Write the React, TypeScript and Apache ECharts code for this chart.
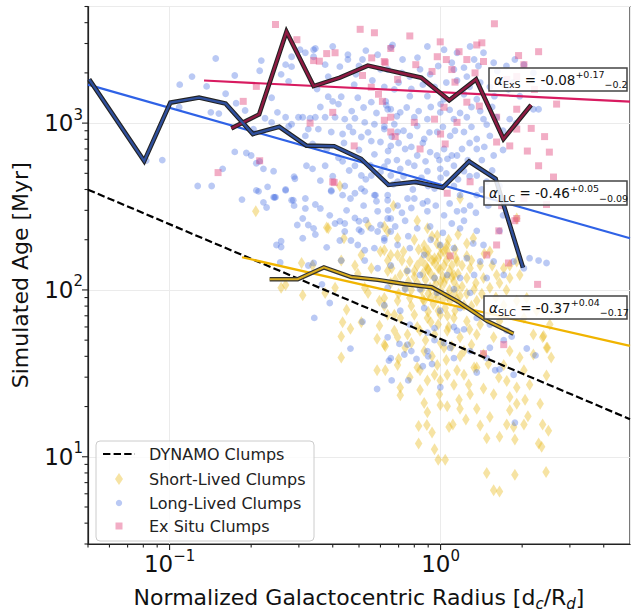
import React, { useEffect, useRef } from 'react';
import * as echarts from 'echarts';

const F = 'DejaVu Sans';
const X_MIN = 0.05, X_MAX = 5, Y_MIN = 3, Y_MAX = 5000;

const xMajorTicks = [0.1, 1];
const xMinorTicks = [0.05, 0.06, 0.07, 0.08, 0.09, 0.2, 0.3, 0.4, 0.5, 0.6, 0.7, 0.8, 0.9, 2, 3, 4];
const yMajorTicks = [10, 100, 1000];
const yMinorTicks = [3, 4, 5, 6, 7, 8, 9, 20, 30, 40, 50, 60, 70, 80, 90, 200, 300, 400, 500, 600, 700, 800, 900, 2000, 3000, 4000, 5000];

const dynamoLine = [[0.05, 399], [5, 16.8]];
const llcFit = [[0.05, 1700], [5, 204]];
const exsFit = [[0.134, 1800], [5, 1346]];
const slcFit = [[0.185, 157], [5, 46.2]];

const exsMedian = [[0.169, 930], [0.214, 1127], [0.27, 3530], [0.34, 1667], [0.425, 1871], [0.539, 2213], [0.849, 1871], [1.076, 1371], [1.352, 1828], [1.706, 803], [2.158, 1285]];
const llcMedian = [[0.0505, 1829], [0.0806, 592], [0.1007, 1327], [0.1285, 1422], [0.161, 1309], [0.203, 860], [0.254, 951], [0.32, 733], [0.405, 727], [0.509, 611], [0.642, 426], [0.808, 444], [1.017, 410], [1.274, 589], [1.596, 464], [2.014, 136]];
const slcMedian = [[0.234, 116], [0.297, 116], [0.371, 136.5], [0.468, 119.5], [0.586, 115], [0.734, 108.6], [0.927, 103.8], [1.168, 84.5], [1.483, 65.2], [1.857, 54.7]];

const shortLived = [
  [0.208, 296], [0.425, 420], [0.38, 237], [0.307, 145], [0.337, 140], [0.268, 107], [0.258, 103], [0.31, 93], [0.375, 96], [0.408, 103], [0.43, 150], [0.483, 140], [0.51, 162], [0.525, 103], [0.555, 135], [0.6, 170], [0.638, 150], [0.655, 162], [0.595, 86], [0.62, 80], [0.45, 76], [0.435, 64], [0.465, 58.5], [0.51, 64], [0.595, 61], [0.43, 52.5], [0.583, 51], [0.625, 46], [0.43, 39.4], [0.583, 33], [0.625, 33], [0.675, 71], [0.694, 52], [0.495, 125], [0.54, 96],
  [0.62, 173], [0.694, 162], [0.77, 148], [0.87, 170], [0.95, 155], [1.03, 170], [1.15, 148], [1.285, 135], [1.44, 118], [1.61, 123], [1.8, 118], [1.96, 123], [0.638, 130], [0.71, 123], [0.8, 130], [0.894, 135], [0.997, 132], [1.12, 123], [1.25, 118], [0.655, 110], [0.74, 103], [0.82, 110], [0.915, 103], [1.03, 110], [1.15, 103], [1.33, 101], [1.52, 103], [0.62, 89.6], [0.694, 86], [0.77, 89.6], [0.87, 86], [0.972, 89.6], [1.085, 86], [1.22, 81], [1.36, 86], [1.71, 81], [1.91, 86], [0.638, 71], [0.71, 68], [0.8, 71], [0.894, 68], [0.997, 71], [1.12, 68], [1.25, 65], [1.48, 68], [1.65, 65], [2.03, 68], [0.675, 57], [0.755, 54], [0.84, 57], [0.95, 54], [1.058, 57], [1.18, 52], [1.36, 54], [1.57, 52], [2.2, 54], [2.46, 45], [0.62, 47], [0.74, 45], [0.87, 43], [1.03, 45], [1.22, 43], [1.44, 41], [1.8, 43], [0.694, 35.5], [0.82, 34.3], [0.972, 35.5], [1.15, 33], [1.36, 34.3], [1.71, 35.5], [1.71, 135], [1.91, 148], [0.894, 234], [0.82, 260], [0.972, 212], [1.058, 186], [0.694, 204], [0.62, 240],
  [0.385, 234], [0.44, 204], [0.54, 245], [0.638, 224], [1.18, 353], [1.32, 204], [1.52, 170], [1.8, 140], [1.91, 268], [0.67, 320],
  [0.71, 23.4], [0.84, 25.1], [0.87, 21], [0.894, 18.5], [0.83, 15.3], [0.89, 15.5], [0.93, 14], [0.83, 12], [0.95, 11.1], [0.98, 9.6], [1.04, 9.6], [0.99, 23.7], [0.997, 20.4], [1.058, 20.1], [1.075, 15.1], [1.11, 15.6], [1.18, 19.4], [1.17, 22], [1.24, 16.7], [1.285, 23.7], [1.36, 19.4], [1.4, 15.4], [1.48, 12.9], [1.48, 8], [1.57, 6.3], [1.65, 6.2], [1.65, 13.2], [1.52, 17.3], [1.755, 15.6], [1.8, 19], [1.88, 12.7], [1.88, 7.8], [1.86, 15.1], [2.03, 15.6], [2.1, 17.5], [2.05, 22], [2.13, 27], [2.33, 20.8], [2.3, 12], [2.36, 11.5], [2.45, 8.1], [2.5, 14.3], [2.56, 39.4], [2.48, 45], [2.4, 53], [1.91, 26], [1.91, 20.8], [1.8, 22.8], [1.755, 28.5], [1.64, 29.9], [1.57, 23.7], [1.44, 25.7], [1.27, 27.1], [1.22, 31], [1.12, 27], [1.058, 31], [0.997, 28.7], [0.95, 31], [0.894, 28.7], [0.84, 33], [0.77, 30], [0.71, 26], [0.7, 38.5], [1.33, 34.3], [1.5, 36], [2.03, 33], [2.2, 41], [1.96, 39.4],
  [2.38, 52], [2.46, 30.7], [2.38, 15.6], [2.53, 62], [2.26, 75], [2.08, 89.6], [2.68, 81],
  [0.85, 150], [0.9, 160], [0.95, 145], [1.0, 165], [1.05, 150], [1.1, 140], [0.92, 125], [0.98, 135], [1.02, 120], [1.08, 130], [0.88, 115], [0.96, 108], [1.12, 112], [0.9, 95], [1.0, 100], [1.06, 92], [0.94, 82], [1.04, 78], [0.86, 88], [1.15, 88], [0.8, 120], [0.78, 100], [1.2, 105], [0.97, 190], [1.07, 200], [0.87, 185], [0.93, 210], [1.13, 175], [0.83, 175], [1.25, 160], [0.75, 130], [0.72, 150], [1.3, 150], [1.4, 140], [0.68, 115],
  [0.88, 140], [0.93, 150], [0.98, 155], [1.03, 140], [1.08, 160], [1.14, 155], [1.0, 180], [1.05, 175], [0.9, 172], [0.95, 118], [1.0, 112], [1.05, 118], [1.1, 120], [0.86, 125], [0.9, 132], [1.16, 125], [1.2, 140], [0.82, 140], [0.96, 96], [1.02, 88], [1.08, 100], [1.12, 95], [0.92, 90], [0.85, 100], [1.18, 92], [1.25, 95], [0.98, 75], [1.06, 70], [0.9, 74], [1.13, 75], [0.78, 80], [1.3, 80], [1.35, 110], [1.42, 95], [0.76, 112], [0.7, 95], [0.66, 135], [0.73, 170], [0.8, 200], [1.16, 215], [1.25, 190], [1.45, 165], [1.55, 140], [1.65, 110], [1.6, 90], [1.75, 100], [0.98, 62], [1.07, 60], [0.92, 64], [0.82, 60], [1.28, 58], [1.4, 62], [0.88, 50], [1.0, 48], [1.1, 46], [1.3, 47], [0.78, 48], [1.18, 40], [0.93, 40], [1.05, 38],
];

const longLived = [
  [0.082, 596], [0.094, 600], [0.109, 1700], [0.121, 1900], [0.1085, 1245], [0.148, 2440], [0.137, 1660], [0.161, 1500], [0.142, 1160], [0.152, 1140], [0.127, 420], [0.143, 420], [0.157, 532], [0.174, 672], [0.192, 662], [0.2, 640], [0.185, 348], [0.209, 395], [0.215, 590], [0.209, 575], [0.222, 532], [0.242, 515], [0.23, 415], [0.228, 312], [0.244, 358], [0.268, 400], [0.288, 478], [0.288, 320], [0.317, 308], [0.31, 268], [0.325, 245], [0.296, 245], [0.258, 181], [0.248, 186], [0.31, 204], [0.256, 146], [0.34, 145], [0.218, 2370], [0.215, 2060], [0.174, 1930], [0.176, 1315], [0.19, 1190], [0.204, 921], [0.238, 1420], [0.258, 1960], [0.268, 2240], [0.282, 2500], [0.275, 1780], [0.25, 1160], [0.268, 1085], [0.282, 985], [0.299, 1085], [0.31, 1085], [0.33, 1070], [0.34, 2754], [0.303, 2754], [0.317, 2640], [0.282, 2180], [0.275, 955], [0.225, 1070], [0.238, 1010], [0.317, 838], [0.337, 750],
  [0.345, 2800], [0.4, 2880], [0.34, 2500], [0.375, 2240], [0.425, 2180], [0.455, 2570], [0.455, 2404], [0.53, 2720], [0.515, 2404], [0.586, 2570], [0.638, 2094], [0.665, 2940], [0.487, 1960], [0.385, 1900], [0.43, 1440], [0.385, 1440], [0.495, 1420], [0.555, 1335], [0.628, 1350], [0.655, 1211], [0.345, 1085], [0.375, 1085], [0.408, 1085], [0.443, 1056], [0.483, 1070], [0.525, 1010], [0.57, 985], [0.62, 955], [0.675, 985], [0.325, 921], [0.354, 921], [0.395, 885], [0.435, 860], [0.475, 885], [0.51, 825], [0.555, 780], [0.6, 770], [0.655, 730], [0.32, 555], [0.375, 555], [0.435, 590], [0.483, 555], [0.51, 485], [0.555, 485], [0.62, 548], [0.655, 485], [0.29, 464], [0.337, 532], [0.36, 452], [0.395, 395], [0.443, 420], [0.465, 353], [0.51, 405], [0.575, 370], [0.638, 345], [0.282, 345], [0.317, 353], [0.246, 360], [0.268, 395], [0.213, 390],
  [0.655, 2840], [0.724, 2404], [0.822, 2470], [0.894, 2880], [1.03, 2754], [1.15, 2640], [1.285, 2880], [1.33, 2404], [1.44, 2640], [1.57, 2300], [1.88, 2404], [2.03, 2240], [2.2, 2000], [0.77, 1900], [0.915, 1960], [1.12, 2094], [1.25, 1900], [0.675, 1592], [0.77, 1450], [0.894, 1450], [1.03, 1389], [1.22, 1490], [1.36, 1389], [1.58, 1450], [1.78, 1592], [1.96, 1450], [2.3, 1211], [2.2, 1211], [0.638, 1211], [0.71, 1160], [0.8, 1085], [0.894, 1056], [0.997, 1160], [1.12, 1056], [1.25, 1085], [1.44, 1056], [1.61, 1085], [1.8, 1056], [0.62, 921], [0.694, 885], [0.77, 838], [0.87, 803], [0.972, 885], [1.085, 838], [1.22, 885], [1.36, 803], [1.52, 838], [0.74, 700], [0.82, 640], [0.915, 670], [1.03, 700], [1.15, 640], [1.36, 700], [1.57, 640], [0.638, 590], [0.71, 532], [0.8, 555], [0.894, 515], [0.997, 532], [1.12, 555], [1.22, 515], [0.694, 445], [0.82, 445], [0.95, 405], [1.12, 420], [1.36, 485], [1.48, 445], [0.638, 370], [0.755, 353], [0.894, 340], [1.18, 370], [1.36, 370],
  [0.694, 320], [0.8, 353], [0.894, 296], [0.638, 268], [0.74, 260], [0.82, 234], [0.915, 240], [1.03, 280], [1.15, 296], [1.285, 320], [1.18, 234], [1.36, 226], [1.44, 186], [1.65, 226], [0.62, 204], [0.694, 186], [0.77, 178], [0.87, 162], [0.997, 186], [1.12, 178], [1.25, 155], [1.4, 148], [1.57, 148], [1.86, 148], [2.03, 135], [2.13, 155], [2.3, 150], [2.46, 145], [0.655, 140], [0.755, 130], [0.84, 123], [0.95, 118], [1.058, 123], [1.18, 118], [1.33, 123], [1.48, 118], [1.71, 123], [0.638, 103], [0.74, 101], [0.84, 101], [0.972, 96], [1.12, 101], [1.285, 96], [0.62, 81], [0.71, 75], [0.87, 78], [0.997, 75], [1.18, 78], [1.36, 68], [1.52, 62], [1.755, 57], [0.77, 62], [0.95, 59], [1.15, 57], [0.638, 52], [0.755, 47], [0.894, 43], [1.085, 45], [1.285, 43], [1.48, 39], [0.655, 39],
  [0.222, 335], [0.242, 360], [0.286, 345], [0.345, 325], [0.36, 308], [0.34, 234], [0.345, 215], [0.38, 180], [0.39, 280], [0.408, 250], [0.425, 258], [0.443, 250], [0.483, 270], [0.5, 258], [0.53, 262], [0.425, 198], [0.467, 198], [0.495, 186], [0.525, 173], [0.57, 178], [0.62, 198], [0.655, 224], [0.586, 224], [0.555, 234], [0.51, 224], [0.443, 224], [0.395, 390], [0.435, 370], [0.483, 380], [0.525, 390], [0.57, 370], [0.586, 296], [0.655, 268], [0.258, 196], [0.325, 140], [0.39, 83.5], [0.342, 68], [0.515, 64.5], [0.465, 44.5], [0.645, 37.7], [0.365, 108], [0.43, 150], [0.525, 150], [0.586, 135],
  [0.583, 25.5], [0.66, 28.7], [0.76, 28.7], [0.705, 47.5], [0.735, 41], [0.78, 43], [0.815, 38.6], [0.86, 34.9], [0.9, 40], [0.93, 36], [0.998, 26.1], [1.03, 48], [1.12, 39], [1.36, 32], [1.52, 45], [1.59, 33], [1.65, 33.4], [1.86, 31], [2.08, 44.6], [2.24, 40.5], [1.88, 16], [1.83, 52.5], [1.71, 50], [0.95, 50], [0.894, 55.5], [1.12, 60], [1.22, 58],
  [0.36, 1250], [0.42, 1300], [0.47, 1180], [0.52, 1240], [0.58, 1150], [0.63, 1280], [0.69, 1100], [0.75, 1240], [0.83, 1180], [0.92, 1250], [1.0, 1300], [1.08, 1200], [1.18, 1150], [1.3, 1250], [1.4, 1180], [1.55, 1250],
  [0.38, 700], [0.44, 760], [0.5, 690], [0.57, 650], [0.64, 680], [0.7, 760], [0.78, 720], [0.86, 760], [0.97, 640], [1.06, 610], [1.2, 700], [1.28, 760], [1.45, 720], [1.7, 690],
  [0.4, 480], [0.46, 520], [0.53, 460], [0.6, 510], [0.67, 430], [0.73, 480], [0.79, 400], [0.85, 470], [0.9, 420], [1.0, 470], [1.05, 500], [1.16, 460], [1.28, 480], [1.42, 400], [1.55, 520], [1.65, 420],
  [0.45, 300], [0.52, 320], [0.58, 340], [0.64, 300], [0.72, 290], [0.78, 310], [0.86, 330], [0.96, 320], [1.08, 330], [1.22, 300], [1.35, 290], [1.5, 320], [1.7, 280],
  [0.48, 1700], [0.56, 1800], [0.62, 1650], [0.7, 1750], [0.78, 1600], [0.86, 1700], [0.95, 1650], [1.05, 1750], [1.15, 1800], [1.28, 1650], [1.4, 1750], [1.52, 1650], [1.7, 1700], [1.85, 1750],
  [0.5, 2200], [0.6, 2100], [0.72, 2000], [0.84, 2100], [0.98, 2200], [1.1, 2300], [1.22, 2150], [1.38, 2200], [1.62, 2050], [1.75, 2200],
  [0.35, 1600], [0.4, 1350], [0.46, 950], [0.54, 880], [0.66, 830], [0.73, 900], [0.82, 960], [0.91, 880], [1.02, 950], [1.13, 900], [1.3, 950], [1.48, 980], [1.7, 900], [1.9, 1000],
  [0.42, 620], [0.55, 560], [0.69, 600], [0.76, 580], [0.88, 590], [0.99, 600], [1.1, 640], [1.26, 600], [1.42, 600],
  [0.5, 230], [0.6, 245], [0.68, 240], [0.76, 210], [0.92, 200], [1.02, 220], [1.1, 250], [1.22, 260], [1.32, 190],
];

const exSitu = [
  [0.246, 3900], [0.295, 3162], [0.209, 1660], [0.187, 1350], [0.33, 1000], [0.215, 595], [0.151, 505], [0.34, 2370],
  [0.405, 440], [0.505, 3650], [0.57, 3480], [0.38, 2610], [0.408, 2640], [0.357, 2350], [0.557, 2460], [0.515, 1930], [0.555, 1640], [0.59, 1490], [0.625, 2300], [0.655, 2800], [0.61, 1350], [0.655, 1085], [0.62, 1040], [0.4, 1160], [0.68, 830],
  [1.58, 3940], [0.77, 3330], [0.997, 3070], [1.36, 2940], [1.42, 3030], [1.17, 2680], [1.25, 2404], [1.44, 2340], [2.3, 2680], [1.94, 2540], [2.03, 2240], [1.05, 2404], [0.972, 2500], [0.81, 2240], [0.62, 2340], [0.694, 1828], [0.93, 2040], [1.1, 2094], [1.13, 1760], [1.34, 2000], [1.755, 1828], [1.91, 1900], [2.22, 1592], [2.68, 1300], [1.03, 1245], [1.25, 1335], [1.39, 1265], [1.91, 1211], [0.95, 1056], [1.15, 1010], [1.61, 1085], [1.91, 921], [2.16, 930], [2.42, 830], [0.8, 1010], [1.0, 860], [0.84, 700], [1.04, 750], [1.61, 770], [1.8, 730], [2.52, 670], [2.3, 555],
  [2.09, 680], [2.61, 475], [2.46, 325], [2.28, 108], [1.91, 268], [1.68, 320], [1.61, 186], [0.4, 445], [0.48, 730], [0.655, 885],
  [1.285, 445], [1.058, 380], [2.03, 353], [1.64, 226], [1.48, 162], [1.88, 260], [1.78, 145], [1.085, 160], [1.71, 47], [1.44, 41.5],
];

const legendNames = ['DYNAMO Clumps', 'Short-Lived Clumps', 'Long-Lived Clumps', 'Ex Situ Clumps'];
const annotations = [
  { sub: 'ExS', val: '-0.08', plus: '+0.17', minus: '−0.2', box: [489, 68, 138, 23] },
  { sub: 'LLC', val: '-0.46', plus: '+0.05', minus: '−0.09', box: [484, 181, 143, 24] },
  { sub: 'SLC', val: '-0.37', plus: '+0.04', minus: '−0.17', box: [484, 296, 143, 23] },
];

const YELLOW = '#e8b818', BLUE = '#4169e1', PINK = '#e34a7f';
const Y_OP = 0.4, B_OP = 0.36, P_OP = 0.45;

function powLabel(v: number) {
  const e = Math.log10(v);
  const r = Math.round(e);
  if (Math.abs(e - r) > 1e-6) return '';
  const exp = r < 0 ? '−' + Math.abs(r) : String(r);
  return '{b|10}{s|' + exp + '}';
}

function tickSeries(axis: 'x' | 'y', data: number[][]) {
  return {
    type: 'custom',
    silent: true,
    clip: false,
    z: 30,
    data,
    renderItem: (_p: any, api: any) => {
      const pt = api.coord([api.value(0), api.value(1)]);
      const len = api.value(2);
      const shape = axis === 'x'
        ? { x1: pt[0], y1: pt[1], x2: pt[0], y2: pt[1] + len }
        : { x1: pt[0] - len, y1: pt[1], x2: pt[0], y2: pt[1] };
      return { type: 'line', shape, style: { stroke: '#222', lineWidth: 1.1 } };
    },
  };
}

function lineSeries(data: number[][], color: string, width: number, z: number, type: any = 'solid') {
  return {
    type: 'line', data, symbol: 'none', silent: true, z,
    lineStyle: { color, width, type, cap: 'butt', join: 'miter' },
  };
}

export default function App() {
  const ref = useRef<HTMLDivElement>(null);
  useEffect(() => {
    if (!ref.current) return;
    const chart = echarts.init(ref.current, null, { renderer: 'svg' });
    const labelRich = {
      b: { fontSize: 23, lineHeight: 32, fontFamily: F, color: '#111' },
      s: { fontSize: 15, lineHeight: 15, verticalAlign: 'top', fontFamily: F, color: '#111' },
    };
    const annRich = {
      a: { fontSize: 13.5, fontStyle: 'italic', lineHeight: 20, fontFamily: F, fill: '#111' },
      s: { fontSize: 9.5, lineHeight: 18, verticalAlign: 'bottom', fontFamily: F, fill: '#111' },
      m: { fontSize: 13.5, lineHeight: 20, fontFamily: F, fill: '#111' },
      p: { fontSize: 9.5, lineHeight: 7, verticalAlign: 'top', fontFamily: F, fill: '#111' },
      n: { fontSize: 9.5, lineHeight: 12, verticalAlign: 'bottom', fontFamily: F, fill: '#111' },
    };
    const graphics: any[] = [];
    annotations.forEach((a) => {
      const [bx, by, bw, bh] = a.box;
      graphics.push({
        type: 'rect', z: 100, silent: true,
        shape: { x: bx, y: by, width: bw, height: bh },
        style: { fill: 'rgba(255,255,255,0.85)', stroke: '#444', lineWidth: 1.5 },
      });
      graphics.push({
        type: 'text', z: 101, silent: true, x: bx + 5, y: by + bh / 2,
        style: {
          text: '{a|α}{s|' + a.sub + '}{m| = ' + a.val + '}{p|' + a.plus + '}{n|' + a.minus + '}',
          rich: annRich, verticalAlign: 'middle', align: 'left', fontFamily: F,
        },
      });
    });
    // legend
    const lx = 96, ly = 441, lw = 218, lh = 100;
    graphics.push({
      type: 'rect', z: 110, silent: true,
      shape: { x: lx, y: ly, width: lw, height: lh, r: 4 },
      style: { fill: 'rgba(255,255,255,0.8)', stroke: '#cccccc', lineWidth: 1 },
    });
    const rows = [454, 479, 503, 526];
    graphics.push({
      type: 'line', z: 111, silent: true,
      shape: { x1: 103, y1: rows[0], x2: 135, y2: rows[0] },
      style: { stroke: '#000', lineWidth: 2, lineDash: [7.4, 3.2] },
    });
    graphics.push({
      type: 'polygon', z: 111, silent: true,
      shape: { points: [[119, rows[1] - 6], [123, rows[1]], [119, rows[1] + 6], [115, rows[1]]] },
      style: { fill: YELLOW, opacity: Y_OP },
    });
    graphics.push({
      type: 'circle', z: 111, silent: true,
      shape: { cx: 119, cy: rows[2], r: 3.2 },
      style: { fill: BLUE, opacity: B_OP },
    });
    graphics.push({
      type: 'rect', z: 111, silent: true,
      shape: { x: 115.5, y: rows[3] - 3.5, width: 7, height: 7 },
      style: { fill: PINK, opacity: P_OP },
    });
    legendNames.forEach((name, i) => {
      graphics.push({
        type: 'text', z: 112, silent: true, x: 149, y: rows[i],
        style: { text: name, fontSize: 16, fontFamily: F, fill: '#222', verticalAlign: 'middle', align: 'left' },
      });
    });

    const option: any = {
      animation: false,
      backgroundColor: '#fff',
      textStyle: { fontFamily: F },
      grid: { left: 88, top: 6.5, width: 546, height: 542.5, show: true, borderColor: '#222', borderWidth: 1.2, backgroundColor: 'transparent' },
      xAxis: {
        type: 'log', logBase: 10, min: X_MIN, max: X_MAX,
        name: '{n|Normalized Galactocentric Radius [d}{i|c}{n|/R}{i|d}{n|]}',
        nameLocation: 'middle', nameGap: 39,
        nameTextStyle: {
          fontSize: 22, fontFamily: F, color: '#111',
          rich: {
            n: { fontSize: 22, lineHeight: 28, fontFamily: F, color: '#111' },
            i: { fontSize: 15, lineHeight: 14, fontStyle: 'italic', verticalAlign: 'bottom', fontFamily: F, color: '#111' },
          },
        },
        axisLine: { show: true, lineStyle: { color: '#222', width: 1.2 } },
        axisTick: { show: false },
        axisLabel: { margin: 4, formatter: (v: number) => powLabel(v), rich: labelRich, fontSize: 23, fontFamily: F },
        splitLine: { show: true, lineStyle: { color: '#ebebeb', width: 1 } },
      },
      yAxis: {
        type: 'log', logBase: 10, min: Y_MIN, max: Y_MAX,
        name: 'Simulated Age [Myr]', nameLocation: 'middle', nameGap: 57,
        nameTextStyle: { fontSize: 22, fontFamily: F, color: '#111' },
        axisLine: { show: true, lineStyle: { color: '#222', width: 1.2 } },
        axisTick: { show: false },
        axisLabel: { margin: 5, formatter: (v: number) => powLabel(v), rich: labelRich, fontSize: 23, fontFamily: F },
        splitLine: { show: true, lineStyle: { color: '#ebebeb', width: 1 } },
      },
      graphic: graphics,
      series: [
        { type: 'scatter', name: legendNames[1], data: shortLived, symbol: 'diamond', symbolSize: [7.5, 12], itemStyle: { color: YELLOW, opacity: Y_OP }, silent: true, z: 2 },
        { type: 'scatter', name: legendNames[2], data: longLived, symbol: 'circle', symbolSize: 6.8, itemStyle: { color: BLUE, opacity: B_OP }, silent: true, z: 3 },
        { type: 'scatter', name: legendNames[3], data: exSitu, symbol: 'rect', symbolSize: 7, itemStyle: { color: PINK, opacity: P_OP }, silent: true, z: 4 },
        { ...lineSeries(dynamoLine, '#000', 2.2, 5, [7.4, 3.2]), name: legendNames[0] },
        lineSeries(llcFit, '#2f62e6', 2.2, 6),
        lineSeries(exsFit, '#d81b60', 2.2, 6),
        lineSeries(slcFit, '#f0b400', 2.2, 6),
        lineSeries(exsMedian, '#222', 4.6, 7),
        lineSeries(exsMedian, '#8e1a42', 2.4, 8),
        lineSeries(llcMedian, '#222', 4.6, 7),
        lineSeries(llcMedian, '#2f4f9c', 2.4, 8),
        lineSeries(slcMedian, '#333', 4.4, 7),
        lineSeries(slcMedian, '#d9ac1c', 2, 8),
        tickSeries('x', xMajorTicks.map((v) => [v, Y_MIN, 6])),
        tickSeries('x', xMinorTicks.map((v) => [v, Y_MIN, 3.5])),
        tickSeries('y', yMajorTicks.map((v) => [X_MIN, v, 6])),
        tickSeries('y', yMinorTicks.map((v) => [X_MIN, v, 3.5])),
      ],
    };
    chart.setOption(option);
    return () => chart.dispose();
  }, []);
  return <div ref={ref} style={{ position: 'absolute', left: 0, top: 0, width: 633, height: 616 }} />;
}
